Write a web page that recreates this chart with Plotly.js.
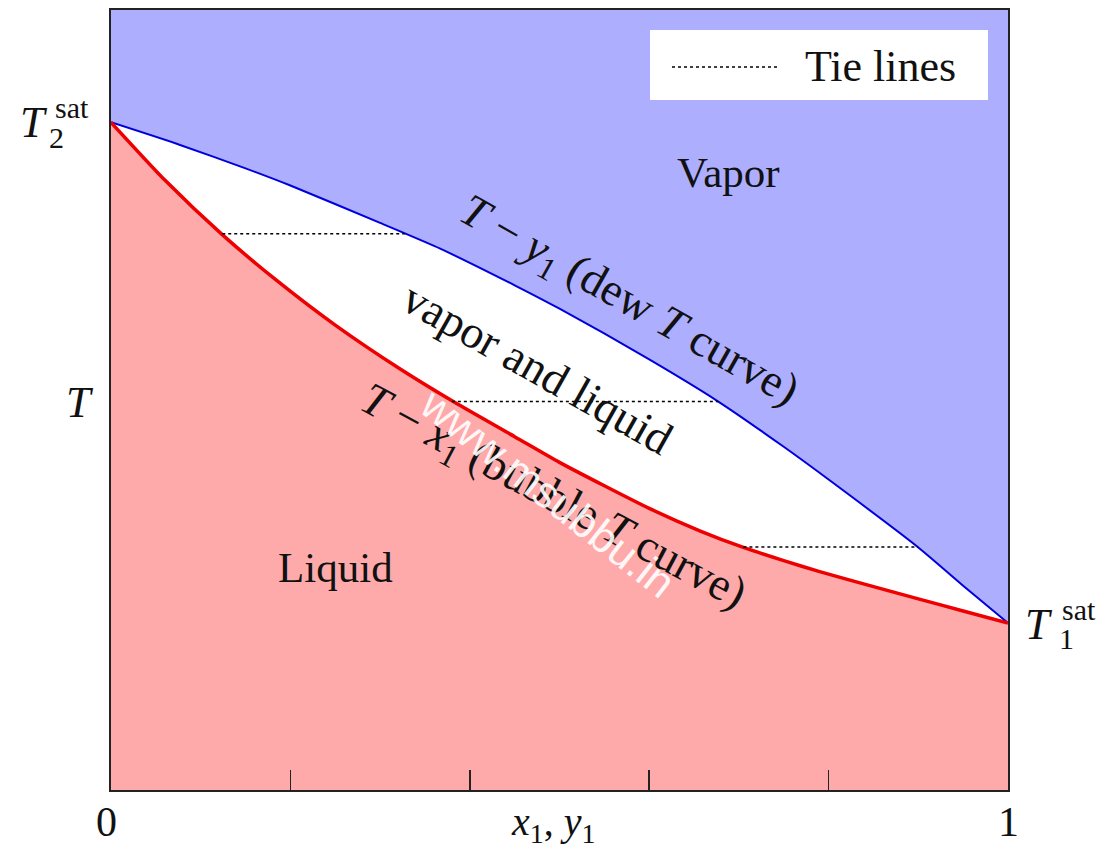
<!DOCTYPE html>
<html>
<head>
<meta charset="utf-8">
<script src="https://cdn.plot.ly/plotly-3.0.1.min.js"></script>
<style>html,body{margin:0;padding:0;background:#fff;}#chart{width:1104px;height:852px;}</style>
</head>
<body>
<div id="chart"></div>
<script>
// Bubble curve (T - x1): normalized T vs liquid mole fraction x1
const bubbleX = [0, 0.06, 0.124, 0.185, 0.25, 0.322, 0.383, 0.45, 0.5, 0.55, 0.6, 0.657, 0.705, 0.75, 0.79, 0.843, 0.9, 0.95, 1];
const bubbleT = [0.856, 0.782, 0.712, 0.653, 0.596, 0.540, 0.497, 0.453, 0.420, 0.390, 0.361, 0.332, 0.311, 0.294, 0.280, 0.263, 0.245, 0.2295, 0.214];
// Dew curve (T - y1)
const dewY = [0, 0.077, 0.15, 0.2, 0.3, 0.367, 0.45, 0.5, 0.6, 0.677, 0.75, 0.8, 0.9, 0.954, 1];
const dewT = [0.856, 0.827, 0.797, 0.775, 0.727, 0.694, 0.647, 0.617, 0.552, 0.498, 0.440, 0.398, 0.311, 0.258, 0.214];
// Tie lines (liquid end, vapor end, temperature)
const tieStart = [0.124, 0.38, 0.705];
const tieEnd = [0.328, 0.677, 0.900];
const tieT = [0.713, 0.498, 0.3115];
const xTicks = [0.2, 0.4, 0.6, 0.8];

const tx = [], ty = [];
for (let i = 0; i < tieT.length; i++) {
  tx.push(tieStart[i], tieEnd[i], null);
  ty.push(tieT[i], tieT[i], null);
}

const SERIF = '"Liberation Serif", "Times New Roman", serif';
const BLUE_BG = '#aeaeff';
const RED_BG = '#ffaaaa';
const NB = '\u00a0';

const traces = [
  {x: dewY, y: dewT, type: 'scatter', mode: 'lines', fill: 'tozeroy', fillcolor: '#ffffff',
   line: {color: '#0000dd', width: 2, shape: 'spline', smoothing: 0.6}, showlegend: false, hoverinfo: 'skip'},
  {x: bubbleX, y: bubbleT, type: 'scatter', mode: 'lines', fill: 'tozeroy', fillcolor: RED_BG,
   line: {color: '#ee0000', width: 3.5, shape: 'spline', smoothing: 0.6}, showlegend: false, hoverinfo: 'skip'},
  {x: tx, y: ty, type: 'scatter', mode: 'lines', connectgaps: false,
   line: {color: '#000', width: 1.5, dash: 'dot'}, showlegend: false, hoverinfo: 'skip'}
];

function px2x(p) { return (p - 111) / 897; }
function px2y(p) { return (790 - p) / 780; }

function ann(text, cx, cy, size, opts) {
  return Object.assign({text: text, xref: 'paper', yref: 'paper', x: px2x(cx), y: px2y(cy),
    xanchor: 'center', yanchor: 'middle', showarrow: false,
    font: {family: SERIF, size: size, color: '#111'}}, opts || {});
}

const annotations = [
  ann('Vapor', 728, 172, 43),
  ann('Liquid', 335, 567, 43),
  ann('<i>T</i>' + NB + '−' + NB + '<i>y</i><sub>1</sub>' + NB + '(dew' + NB + '<i>T</i>' + NB + 'curve)', 628, 302, 46, {textangle: 29.5}),
  ann('vapor and liquid', 538, 368, 46, {textangle: 29.5}),
  ann('<i>T</i>' + NB + '−' + NB + '<i>x</i><sub>1</sub>' + NB + '(bubble' + NB + '<i>T</i>' + NB + 'curve)', 552, 498, 46, {textangle: 28}),
  ann('www.msubbu.in', 548, 492, 44, {textangle: 38, font: {family: '"Liberation Sans", Arial, sans-serif', size: 44, color: 'rgba(255,255,255,0.92)'}}),
  ann('Tie lines', 880, 67, 44),
  // axis labels
  ann('0', 106, 822, 42),
  ann('1', 1008, 822, 42),
  ann('<i>x</i><sub>1</sub>, <i>y</i><sub>1</sub>', 553, 824, 40),
  ann('<i>T</i>', 80, 402, 44),
  // T2 sat
  ann('<i>T</i>', 34, 122, 44),
  ann('sat', 72, 107, 30),
  ann('2', 56, 137, 30),
  // T1 sat
  ann('<i>T</i>', 1039, 624, 44),
  ann('sat', 1079, 609, 30),
  ann('1', 1066, 638, 30)
];

const shapes = [
  {type: 'rect', xref: 'paper', yref: 'paper', x0: px2x(650), x1: px2x(988), y0: px2y(100), y1: px2y(30),
   fillcolor: '#ffffff', line: {width: 0}, layer: 'above'},
  {type: 'line', xref: 'paper', yref: 'paper', x0: px2x(672), x1: px2x(780), y0: px2y(67), y1: px2y(67),
   line: {color: '#000', width: 1.5, dash: 'dot'}, layer: 'above'}
];

const layout = {
  width: 1104, height: 852,
  margin: {l: 111, r: 96, t: 10, b: 62, pad: 0},
  paper_bgcolor: '#ffffff',
  plot_bgcolor: BLUE_BG,
  showlegend: false,
  xaxis: {range: [0, 1], showgrid: false, zeroline: false, showline: true, mirror: true,
          linecolor: '#222', linewidth: 2, tickmode: 'array', tickvals: xTicks,
          ticks: 'inside', ticklen: 20, tickwidth: 1.5, tickcolor: '#222', showticklabels: false, fixedrange: true},
  yaxis: {range: [0, 1], showgrid: false, zeroline: false, showline: true, mirror: true,
          linecolor: '#222', linewidth: 2, ticks: '', showticklabels: false, fixedrange: true},
  annotations: annotations,
  shapes: shapes
};

Plotly.newPlot('chart', traces, layout, {staticPlot: true, displayModeBar: false});
</script>
</body>
</html>
